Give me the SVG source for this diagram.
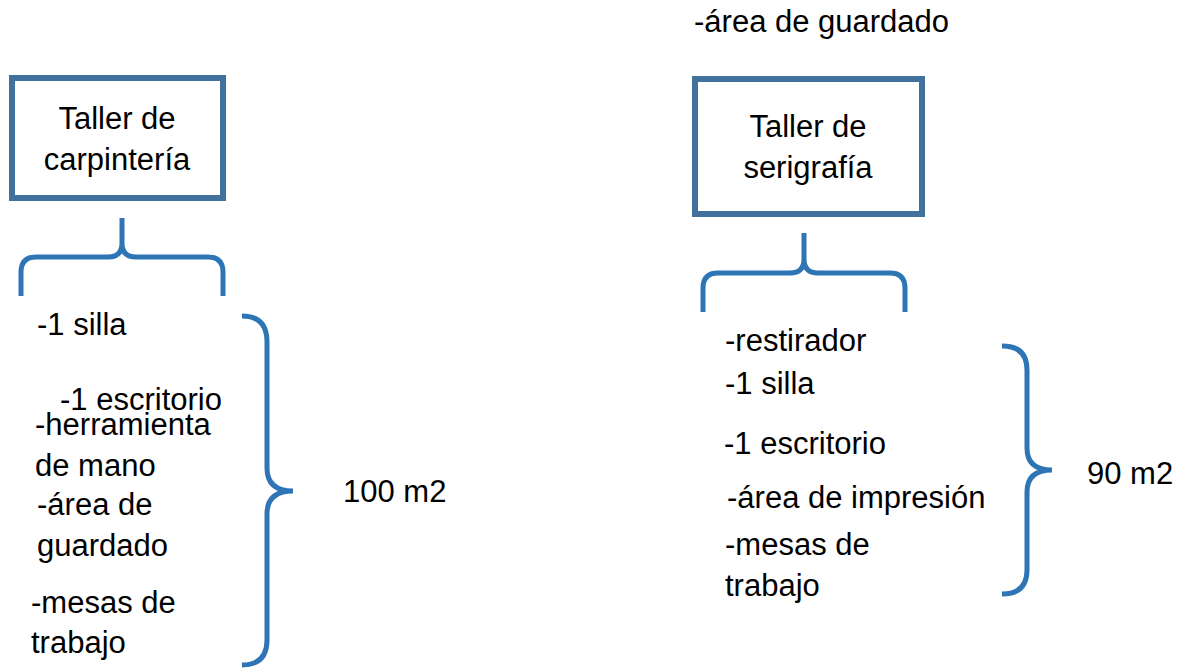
<svg xmlns="http://www.w3.org/2000/svg" width="1180" height="668" viewBox="0 0 1180 668">
<style>
.box{fill:#fff;stroke:#41719C;stroke-width:6}
.br{fill:none;stroke:#2E75B6;stroke-width:5;stroke-linecap:butt}
text{font-family:"Liberation Sans",Arial,sans-serif;font-size:31px;fill:#000}
.c{text-anchor:middle}
</style>
<rect width="1180" height="668" fill="#fff"/>
<g id="taller-carpinteria">
<rect class="box" x="12" y="78" width="211" height="120"/>
<text class="c" x="117" y="129">Taller de</text>
<text class="c" x="117" y="170">carpintería</text>
</g>
<g id="taller-serigrafia">
<rect class="box" x="695" y="79" width="227" height="135"/>
<text class="c" x="808" y="137">Taller de</text>
<text class="c" x="808" y="178">serigrafía</text>
</g>
<text x="694" y="32">-área de guardado</text>
<g id="connectors">
<path class="br" d="M21,296 V272 Q21,257 36,257 H108 Q122,257 122,243 V218 M122,243 Q122,257 136,257 H208 Q223,257 223,272 V296"/>
<path class="br" d="M703,312 V288 Q703,273 718,273 H790 Q804,273 804,259 V233 M804,259 Q804,273 818,273 H890 Q905,273 905,288 V312"/>
<path class="br" d="M242,316 Q267,316 267,342 V468 Q267,491 293,491 Q267,491 267,514 V640 Q267,665 242,665"/>
<path class="br" d="M1002,346 Q1027,346 1027,370 V448 Q1027,470 1052,470 Q1027,470 1027,492 V570 Q1027,594 1002,594"/>
</g>
<g id="items-carpinteria">
<text x="37" y="335">-1 silla</text>
<text x="60" y="410">-1 escritorio</text>
<text x="35" y="435">-herramienta</text>
<text x="35" y="476">de mano</text>
<text x="37" y="515">-área de</text>
<text x="37" y="556">guardado</text>
<text x="31" y="613">-mesas de</text>
<text x="31" y="653">trabajo</text>
</g>
<text x="343" y="502">100 m2</text>
<g id="items-serigrafia">
<text x="725" y="351">-restirador</text>
<text x="725" y="394">-1 silla</text>
<text x="724" y="454">-1 escritorio</text>
<text x="727" y="508">-área de impresión</text>
<text x="725" y="555">-mesas de</text>
<text x="725" y="596">trabajo</text>
</g>
<text x="1087" y="484">90 m2</text>
</svg>
